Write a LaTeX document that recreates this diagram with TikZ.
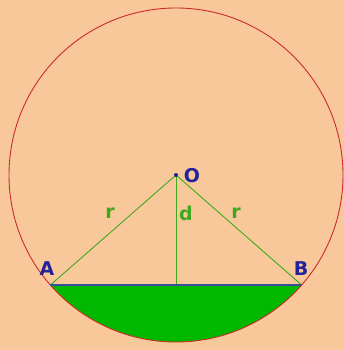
\documentclass[tikz,border=0pt]{standalone}
\usepackage{fontspec}
\setmainfont{DejaVu Sans}
\definecolor{bgc}{HTML}{F8C89A}
\definecolor{circ}{HTML}{CC2A2A}
\definecolor{lgreen}{HTML}{3FA81E}
\definecolor{fgreen}{HTML}{00B800}
\definecolor{navy}{HTML}{22229A}
\definecolor{chordc}{HTML}{3A4F9A}
\tikzset{
  ptlabel/.style={text=navy,font=\bfseries\fontsize{19}{19}\selectfont,inner sep=0pt},
  seglabel/.style={text=lgreen,font=\bfseries\fontsize{19}{19}\selectfont,inner sep=0pt},
  radius line/.style={draw=lgreen,line width=0.9pt}
}
\begin{document}
\begin{tikzpicture}[x=1pt,y=-1pt]
\fill[bgc] (0,0) rectangle (344,350);
\useasboundingbox (0,0) rectangle (344,350);
\coordinate (O) at (176,175);
\coordinate (A) at (50.4,285);
\coordinate (B) at (301.6,285);
\coordinate (M) at (176,285);
\fill[fgreen] (B) arc[start angle=41.2, end angle=138.8, radius=167] -- cycle;
\draw[circ,line width=0.9pt] (O) circle[radius=167];
\draw[radius line] (O) -- (A);
\draw[radius line] (O) -- (B);
\draw[radius line] (O) -- (M);
\draw[chordc,line width=2pt] (A) -- (B);
\fill[navy] (O) circle[radius=2];
\node[ptlabel] (lO) at (192,176) {O};
\node[ptlabel] (lA) at (47,269) {A};
\node[ptlabel] (lB) at (301,269) {B};
\node[seglabel] (lr1) at (110,213) {r};
\node[seglabel] (ld) at (186,213) {d};
\node[seglabel] (lr2) at (236,213) {r};
\end{tikzpicture}
\end{document}
